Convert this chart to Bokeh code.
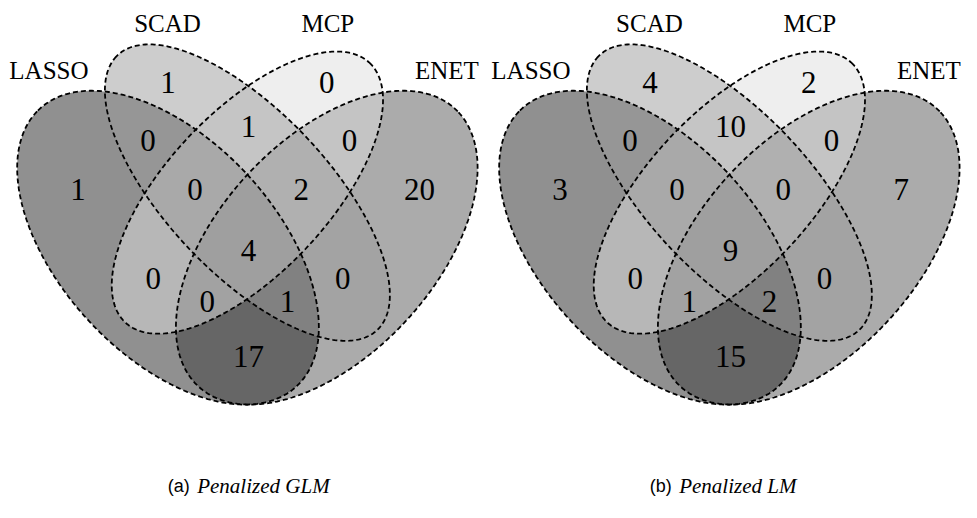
import numpy as np
from bokeh.plotting import figure
from bokeh.models import Range1d, ColumnDataSource
from bokeh.core.properties import value
from bokeh.embed import file_html
from bokeh.resources import INLINE

# ---------------- data ----------------
set_names = ["LASSO", "SCAD", "MCP", "ENET"]
region_names = ["SCAD", "MCP", "LASSO&SCAD", "SCAD&MCP", "MCP&ENET",
                "LASSO", "LASSO&SCAD&MCP", "SCAD&MCP&ENET", "ENET",
                "ALL", "LASSO&MCP", "SCAD&ENET", "LASSO&MCP&ENET",
                "LASSO&SCAD&ENET", "LASSO&ENET"]
glm_counts = [1, 0, 0, 1, 0, 1, 0, 2, 20, 4, 0, 0, 0, 1, 17]
lm_counts = [4, 2, 0, 10, 0, 3, 0, 0, 7, 9, 0, 0, 1, 2, 15]
panel_tags = ["(a)", "(b)"]
panel_titles = ["Penalized GLM", "Penalized LM"]

# ---------------- layout (normalised Venn coordinates) ----------------
# ellipse: cx, cy, a, b, rotation(deg)
ellipses = {
    "LASSO": (0.35, 0.47, 0.35, 0.20, 135),
    "SCAD": (0.50, 0.57, 0.35, 0.15, 135),
    "MCP": (0.50, 0.57, 0.33, 0.15, 45),
    "ENET": (0.65, 0.47, 0.35, 0.20, 45),
}
fill_gray = {"LASSO": "#212121", "SCAD": "#9b9b9b", "MCP": "#dddddd", "ENET": "#575757"}
draw_order = ["ENET", "LASSO", "MCP", "SCAD"]
region_pos = [(0.35, 0.77), (0.65, 0.77), (0.312, 0.664), (0.502, 0.69), (0.693, 0.664),
              (0.18, 0.576), (0.401, 0.576), (0.602, 0.576), (0.825, 0.576),
              (0.502, 0.465), (0.322, 0.414), (0.68, 0.414), (0.424, 0.373),
              (0.576, 0.373), (0.502, 0.273)]
set_label_pos = [(0.125, 0.792), (0.349, 0.877), (0.652, 0.877), (0.877, 0.792)]

SX, SY = 538.0, 568.0
Y0 = 522.0
panel_x0 = [-18.0, 472.0]


def to_px(nx, ny, x0):
    return x0 + SX * np.asarray(nx), Y0 - SY * np.asarray(ny)


W, H = 961, 502
p = figure(width=W, height=H, output_backend="svg", toolbar_location=None,
           x_axis_type=None, y_axis_type=None,
           x_range=Range1d(0, 977), y_range=Range1d(518, 0),
           min_border=0, outline_line_color=None)
p.grid.visible = False
p.background_fill_color = "white"
p.border_fill_color = "white"

t = np.linspace(0, 2 * np.pi, 361)
for pi, counts in enumerate([glm_counts, lm_counts]):
    x0 = panel_x0[pi]
    outlines = []
    for name in draw_order:
        cx, cy, a, b, rot = ellipses[name]
        th = np.radians(rot)
        ex = cx + a * np.cos(t) * np.cos(th) - b * np.sin(t) * np.sin(th)
        ey = cy + a * np.cos(t) * np.sin(th) + b * np.sin(t) * np.cos(th)
        px, py = to_px(ex, ey, x0)
        p.patch(px, py, fill_color=fill_gray[name], fill_alpha=0.5, line_color=None)
        outlines.append((px, py))
    for px, py in outlines:
        p.line(px, py, line_color="black", line_width=1.8, line_dash="5 3")

    rx, ry = to_px([q[0] for q in region_pos], [q[1] for q in region_pos], x0)
    src = ColumnDataSource(dict(x=rx, y=ry, t=[str(c) for c in counts]))
    p.text("x", "y", "t", source=src, text_font=value("Liberation Serif"),
           text_font_size="31px", text_align="center", text_baseline="middle",
           text_color="black")

    lx, ly = to_px([q[0] for q in set_label_pos], [q[1] for q in set_label_pos], x0)
    src2 = ColumnDataSource(dict(x=lx, y=ly, t=set_names))
    p.text("x", "y", "t", source=src2, text_font=value("Liberation Serif"),
           text_font_size="25px", text_align="center", text_baseline="middle",
           text_color="black")

    p.text([x0 + 188.0], [501.0], [panel_tags[pi]], text_font=value("Liberation Sans"),
           text_font_size="18px", text_align="left", text_baseline="middle",
           text_color="black")
    p.text([x0 + 218.0], [501.0], [panel_titles[pi]], text_font=value("Liberation Serif"),
           text_font_size="21px", text_font_style="italic", text_align="left",
           text_baseline="middle", text_color="black")

open("out.html", "w").write(file_html(p, INLINE))
